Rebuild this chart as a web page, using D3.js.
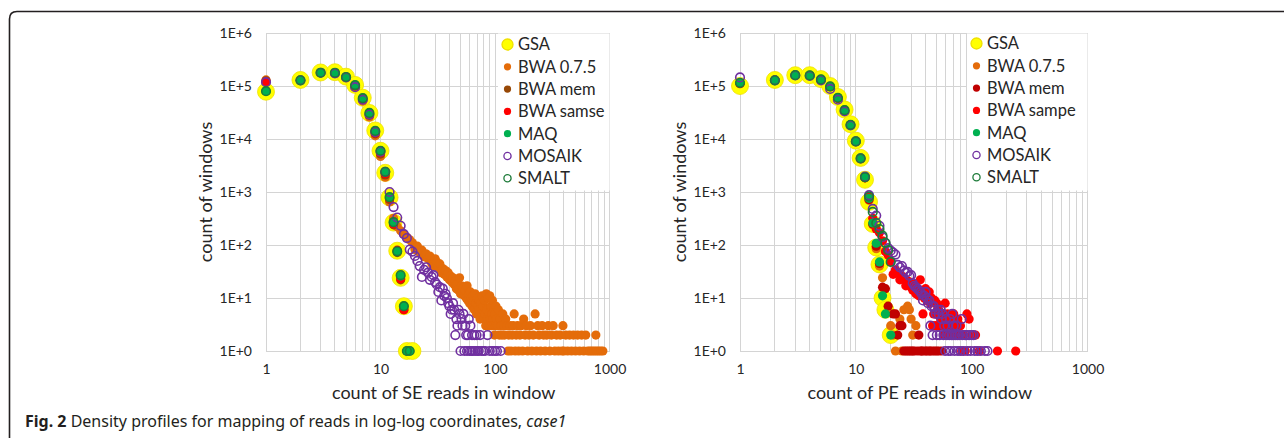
<!DOCTYPE html>
<html><head><meta charset="utf-8">
<script src="https://cdn.jsdelivr.net/npm/d3@7"></script>
<style>body{margin:0;background:#fff;}svg{display:block}</style>
</head><body>
<svg id="c" width="1284" height="438"></svg>
<script>
// ---------- DATA ----------
const xTickValues = [1, 10, 100, 1000];
const yTickValues = [1, 10, 100, 1000, 10000, 100000, 1000000];
const yTickLabels = ["1E+0", "1E+1", "1E+2", "1E+3", "1E+4", "1E+5", "1E+6"];
const leftSeriesNames = ["GSA", "BWA 0.7.5", "BWA mem", "BWA samse", "MAQ", "MOSAIK", "SMALT"];
const rightSeriesNames = ["GSA", "BWA 0.7.5", "BWA mem", "BWA sampe", "MAQ", "MOSAIK", "SMALT"];
const leftXTitle = "count of SE reads in window";
const rightXTitle = "count of PE reads in window";
const yTitle = "count of windows";

// left chart (SE)
const L_GSA = [[1,78000],[2,130000],[3,180000],[4,182000],[5,150000],[6,105000],[7,60000],[8,31000],[9,14500],[10,6000],[11,2300],[12,790],[13,265],[14,78],[15,24],[16,7],[17,1],[19,1]];
const L_BWA075 = [[1,130000],[2,128000],[3,176000],[4,172000],[5,143000],[6,96000],[7,52000],[8,26000],[9,11500],[10,4700],[11,1900],[12,650],
 [13,320],[14,220],[15,185],[16,160],[17,140],[18,125],[19,110],[20,82],[21,95],[22,72],[23,80],[24,60],[25,68],[26,55],[27,62],[28,45],[29,40],[30,55],
 [31,48],[32,38],[33,44],[34,30],[35,36],[36,28],[37,33],[38,25],[39,30],[40,22],[41,26],[42,20],[43,24],[44,18],[45,21],[46,15],[47,19],[48,14],[49,24],[50,12],
 [51,17],[52,13],[53,16],[54,11],[55,14],[56,10],[57,17],[58,9],[59,12],[60,8],[61,13],[62,10],[63,7],[64,11],[65,9],[66,6],[67,12],[68,8],[69,5],[70,10],
 [71,7],[72,6],[73,9],[74,4],[75,8],[76,5],[77,11],[78,6],[79,7],[80,4],[81,9],[82,5],[83,3],[84,12],[85,6],[86,4],[87,10],[88,3],[89,5],[90,11],
 [91,4],[92,7],[93,3],[94,5],[95,9],[96,4],[97,3],[98,6],[99,2],[100,5],
 [101,3],[102,7],[103,4],[105,3],[107,6],[109,2],[111,4],[113,3],[115,2],[117,5],[119,3],[121,2],[124,4],[127,3],[130,1],[132,2],[135,3],[138,1],[141,2],[144,3],
 [147,5],[150,1],[153,2],[157,3],[161,1],[165,2],[169,3],[174,1],[178,4],[183,2],[188,3],[193,1],[198,2],[204,3],[210,1],[216,2],[224,5],[230,1],[236,3],[243,2],
 [250,1],[258,3],[266,2],[274,1],[283,2],[292,3],[301,1],[311,2],[322,3],[333,1],[345,2],[358,1],[371,2],[385,1],[392,3],[400,1],[415,2],[431,1],[448,2],[466,1],
 [485,2],[505,1],[526,2],[548,1],[571,2],[595,1],[620,2],[646,1],[674,1],[703,1],[734,1],[760,2],[767,1],[801,1],[837,1],[875,1]];
const L_BWAmem = [[1,125000],[2,128000],[3,177000],[4,174000],[5,146000],[6,100000],[7,56000],[8,28000],[9,12500],[10,5200],[11,2100],[12,720],[13,240],[14,72],[15,22],[16,6]];
const L_BWAsamse = [[1,120000],[2,129000],[3,178000],[4,176000],[5,147000],[6,102000],[7,57000],[8,29000],[9,13000],[10,5500],[11,2200],[12,760],[13,250],[14,80],[15,23],[16,6],[17,1]];
const L_MAQ = [[1,80000],[2,128000],[3,178000],[4,178000],[5,148000],[6,104000],[7,59000],[8,31000],[9,14200],[10,6000],[11,2350],[12,780],[13,265],[14,75],[15,26],[16,7],[17,1],[18,1]];
const L_MOSAIK = [[1,118000],[2,128000],[3,178000],[4,172000],[5,145000],[6,95000],[7,55000],[8,29000],[9,13500],[10,5800],[11,2400],[12,1000],[13,520],[14,330],[15,230],[16,160],[17,135],[18,82],[19,75],[20,62],
 [21,50],[22,40],[23,25],[24,34],[25,38],[26,30],[27,22],[28,25],[29,27],[30,20],[31,18],[32,13],[33,16],[34,9],[35,15],[36,11],[37,12],[38,10],[39,8],[40,7],
 [41,5],[42,6],[43,8],[44,6],[45,2],[46,4],[47,3],[48,6],[49,5],[50,1],[51,4],[52,3],[53,5],[54,1],[55,3],[56,2],[57,1],[58,2],[59,4],[60,1],
 [61,3],[62,1],[63,2],[64,1],[66,2],[67,1],[69,2],[70,1],[72,1],[74,2],[76,1],[79,1],[82,1],[86,2],[90,1],[95,1],[100,1],[104,1],[112,1]];
const L_SMALT = [[1,80000],[2,128000],[3,178000],[4,178000],[5,148000],[6,104000],[7,59000],[8,31000],[9,14200],[10,6000],[11,2400],[12,800],[13,270],[14,76],[15,27],[16,7],[17,1],[18,1]];

// right chart (PE)
const R_GSA = [[1,100000],[2,130000],[3,160000],[4,160000],[5,135000],[6,100000],[7,62000],[8,36000],[9,19000],[10,9300],[11,4400],[12,1700],[13,650],[14,250],[15,90],[16,43],[17,10],[18,6],[20,2]];
const R_BWA075 = [[1,110000],[2,129000],[3,159000],[4,157000],[5,131000],[6,96000],[7,58000],[8,34000],[9,18000],[10,8800],[11,4200],[12,1850],[13,700],[14,240],[15,85],[16,40],[17,24],
 [20,3],[21,2],[22,1],[24,4],[25,1],[26,6],[28,7],[29,6],[30,4],[31,2],[33,3]];
const R_BWAmem = [[1,112000],[2,129000],[3,159000],[4,157000],[5,132000],[6,97000],[7,59000],[8,35000],[9,18500],[10,9000],[11,4300],[12,1850],[13,720],[14,250],[15,95],[16,45],
 [17,16],[18,15],[19,7],[21,5],[22,5],[23,2],[24,3],[25,3],[26,1],[27,1],[28,1],[29,1],[30,1],[31,1],[32,1],[34,1],[35,2],[36,1],[37,1],[38,1],[40,1],[41,1],[43,1],[44,1],[46,1],[48,1],[50,1],[52,1],[55,1]];
const R_BWAsampe = [[1,113000],[2,129000],[3,160000],[4,158000],[5,133000],[6,98000],[7,60000],[8,35000],[9,18500],[10,9000],[11,4300],[12,1900],[13,800],[14,320],[15,200],[16,170],
 [17,120],[18,75],[19,65],[20,48],[21,28],[22,34],[23,30],[24,22],[25,26],[26,24],[27,17],[28,21],[29,20],[30,16],[31,14],[32,18],[33,12],[34,15],[35,11],[36,22],[37,14],[38,5],[39,10],[40,15],
 [41,9],[42,12],[43,13],[44,8],[45,10],[46,3],[47,5],[48,9],[49,3],[50,8],[51,7],[52,6],[53,3],[54,4],[55,5],[56,3],[57,4],[58,2],[59,8],[60,3],
 [62,5],[63,2],[64,4],[66,3],[68,2],[70,5],[72,3],[74,2],[76,4],[78,2],[80,3],[82,1],[85,2],[88,1],[91,5],[95,4],[99,2],[108,2],[116,1],[167,1],[240,1]];
const R_MAQ = [[1,115000],[2,128000],[3,160000],[4,158000],[5,133000],[6,98000],[7,60000],[8,35000],[9,18500],[10,9000],[11,4300],[12,1900],[13,760],[14,260],[15,108],[16,48],[17,11],[18,5],[20,2]];
const R_MOSAIK = [[1,145000],[2,128000],[3,158000],[4,155000],[5,128000],[6,88000],[7,55000],[8,33000],[9,18000],[10,9000],[11,4300],[12,1950],[13,870],[14,480],[15,360],[16,230],[17,140],[18,108],[19,87],[20,78],
 [21,72],[22,66],[23,42],[24,38],[25,40],[26,33],[27,30],[28,31],[29,26],[30,27],[31,19],[32,17],[33,16],[34,15],[35,14],[36,13],[37,12],[38,9],[39,11],[40,13],
 [41,10],[42,8],[43,9],[44,3],[45,7],[46,2],[47,7],[48,6],[49,5],[50,2],[51,6],[52,5],[53,2],[54,6],[55,4],[56,5],[57,2],[58,3],[59,1],[60,4],
 [61,2],[62,3],[63,1],[64,2],[65,4],[66,1],[67,2],[68,5],[69,2],[70,3],[71,1],[72,2],[74,3],[75,2],[76,1],[78,2],[80,1],[82,4],[83,2],[85,1],
 [88,2],[90,2],[92,1],[95,2],[98,1],[100,2],[104,2],[106,1],[112,1],[120,1],[130,1],[137,1]];
const R_SMALT = [[1,115000],[2,128000],[3,160000],[4,158000],[5,133000],[6,98000],[7,60000],[8,35000],[9,18500],[10,9000],[11,4300],[12,1900],[13,820],[14,420],[15,260],[16,200],[17,150],[18,110],[19,80],[20,48]];

// ---------- STYLE ----------
const FONT = "Lato, 'Open Sans', sans-serif";
const styles = {
  GSA:   {fill:"#FFFF00", stroke:"#F0E000", sw:0.8, r:8.5, lr:5.5},
  BWA075:{fill:"#E46C0A", stroke:"none", sw:0, r:4.6, lr:3.6},
  memL:  {fill:"#974806", stroke:"none", sw:0, r:4.6, lr:3.6},
  memR:  {fill:"#C00000", stroke:"none", sw:0, r:4.6, lr:3.6},
  samse: {fill:"#FF0000", stroke:"none", sw:0, r:4.6, lr:3.6},
  MAQ:   {fill:"#00B050", stroke:"none", sw:0, r:4.6, lr:3.6},
  MOSAIK:{fill:"none", stroke:"#7030A0", sw:1.6, r:4.3, lr:3.6},
  SMALT: {fill:"none", stroke:"#1E7B3A", sw:1.6, r:4.3, lr:3.6}
};

const svg = d3.select("#c");

// outer frame
svg.append("path")
  .attr("d", "M9.5,438 V19 Q9.5,11.5 17,11.5 H1284")
  .attr("fill", "none").attr("stroke", "#231f20").attr("stroke-width", 1.6);

function drawChart(cfg) {
  const g = svg.append("g");
  const x = d3.scaleLog().domain([1, 1000]).range([cfg.x0, cfg.x1]);
  const y = d3.scaleLog().domain([1, 1e6]).range([cfg.yb, cfg.yt]);

  // gridlines
  g.append("g").selectAll("line").data(x.ticks()).join("line")
    .attr("x1", d => x(d)).attr("x2", d => x(d))
    .attr("y1", cfg.yt).attr("y2", cfg.yb)
    .attr("stroke", "#D4D4D4").attr("stroke-width", 1).attr("shape-rendering","crispEdges");
  g.append("g").selectAll("line").data(yTickValues).join("line")
    .attr("x1", cfg.x0).attr("x2", cfg.x1)
    .attr("y1", d => y(d)).attr("y2", d => y(d))
    .attr("stroke", "#D4D4D4").attr("stroke-width", 1).attr("shape-rendering","crispEdges");

  // axes
  const xa = g.append("g").attr("transform", `translate(0,${cfg.yb})`)
    .call(d3.axisBottom(x).tickValues(xTickValues).tickFormat(d3.format("d")).tickSize(0).tickPadding(13));
  const ya = g.append("g").attr("transform", `translate(${cfg.x0},0)`)
    .call(d3.axisLeft(y).tickValues(yTickValues).tickFormat((d, i) => yTickLabels[i]).tickSize(0).tickPadding(14));
  [xa, ya].forEach(a => {
    a.select(".domain").remove();
    a.selectAll("text").attr("font-family", FONT).attr("font-size", 14).attr("fill", "#262626");
  });

  // legend background (covers gridlines)
  g.append("rect").attr("x", cfg.legX).attr("y", cfg.yt + 0.5)
    .attr("width", cfg.x1 - cfg.legX).attr("height", 157).attr("fill", "#fff");

  // series
  cfg.series.forEach(s => {
    const st = styles[s.style];
    g.append("g").selectAll("circle").data(s.data).join("circle")
      .attr("cx", d => x(d[0])).attr("cy", d => y(d[1])).attr("r", st.r)
      .attr("fill", st.fill).attr("stroke", st.stroke).attr("stroke-width", st.sw);
  });

  // legend
  const lg = g.append("g");
  cfg.series.forEach((s, i) => {
    const st = styles[s.style];
    const cy = cfg.legY0 + i * 22.3;
    lg.append("circle").attr("cx", cfg.legX + cfg.legMx).attr("cy", cy).attr("r", st.lr)
      .attr("fill", st.fill).attr("stroke", st.stroke).attr("stroke-width", st.sw ? 1.3 : 0);
    lg.append("text").attr("x", cfg.legX + cfg.legTx).attr("y", cy).attr("dy", "0.36em")
      .attr("font-family", FONT).attr("font-size", 16.5).attr("fill", "#262626").text(s.name);
  });

  // titles
  g.append("text").attr("x", (cfg.x0 + cfg.x1) / 2 + 6).attr("y", 393).attr("dy", "0.35em")
    .attr("text-anchor", "middle").attr("font-family", FONT).attr("font-size", 18).attr("fill", "#262626")
    .text(cfg.xTitle);
  g.append("text").attr("transform", `translate(${cfg.yTitleX},${(cfg.yt + cfg.yb) / 2}) rotate(-90)`)
    .attr("dy", "0.35em").attr("text-anchor", "middle").attr("font-family", FONT).attr("font-size", 18).attr("fill", "#262626")
    .text(yTitle);
}

drawChart({
  x0: 266, x1: 609.5, yt: 33, yb: 351, legX: 498, legMx: 9.5, legTx: 20, legY0: 44.5, yTitleX: 206,
  xTitle: leftXTitle,
  series: [
    {name: leftSeriesNames[0], data: L_GSA, style: "GSA"},
    {name: leftSeriesNames[1], data: L_BWA075, style: "BWA075"},
    {name: leftSeriesNames[2], data: L_BWAmem, style: "memL"},
    {name: leftSeriesNames[3], data: L_BWAsamse, style: "samse"},
    {name: leftSeriesNames[4], data: L_MAQ, style: "MAQ"},
    {name: leftSeriesNames[5], data: L_MOSAIK, style: "MOSAIK"},
    {name: leftSeriesNames[6], data: L_SMALT, style: "SMALT"}
  ]
});
drawChart({
  x0: 740, x1: 1087.5, yt: 33, yb: 351, legX: 967, legMx: 9.5, legTx: 20, legY0: 43.5, yTitleX: 680,
  xTitle: rightXTitle,
  series: [
    {name: rightSeriesNames[0], data: R_GSA, style: "GSA"},
    {name: rightSeriesNames[1], data: R_BWA075, style: "BWA075"},
    {name: rightSeriesNames[2], data: R_BWAmem, style: "memR"},
    {name: rightSeriesNames[3], data: R_BWAsampe, style: "samse"},
    {name: rightSeriesNames[4], data: R_MAQ, style: "MAQ"},
    {name: rightSeriesNames[5], data: R_MOSAIK, style: "MOSAIK"},
    {name: rightSeriesNames[6], data: R_SMALT, style: "SMALT"}
  ]
});

// caption
const cap = svg.append("text").attr("x", 25).attr("y", 421.5).attr("dy", "0.35em")
  .attr("font-family", "'Noto Sans', 'Open Sans', sans-serif").attr("font-size", 16).attr("fill", "#231f20");
cap.append("tspan").attr("font-weight", "bold").text("Fig. 2");
cap.append("tspan").text(" Density profiles for mapping of reads in log-log coordinates, ");
cap.append("tspan").attr("font-style", "italic").text("case1");
</script>
</body></html>
